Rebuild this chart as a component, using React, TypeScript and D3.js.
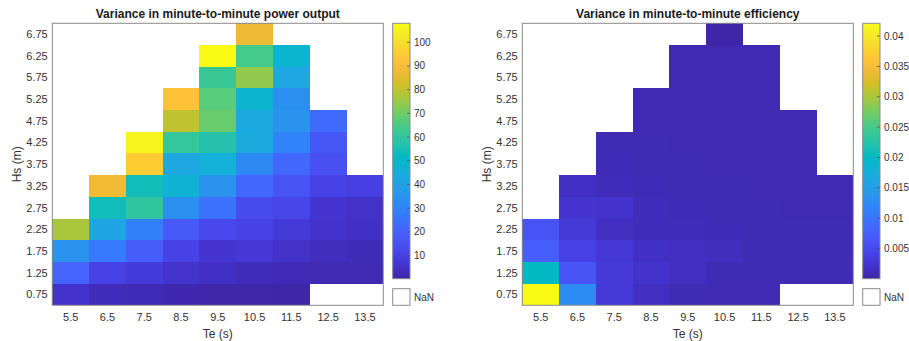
import React from "react";
import * as d3 from "d3";

const TE = ["5.5", "6.5", "7.5", "8.5", "9.5", "10.5", "11.5", "12.5", "13.5"];
const HS = ["0.75", "1.25", "1.75", "2.25", "2.75", "3.25", "3.75", "4.25", "4.75", "5.25", "5.75", "6.25", "6.75"];
const N = null;

// rows: Hs 0.75 -> 6.75, columns: Te 5.5 -> 13.5
const powerVar: (number | null)[][] = [
  [5.5, 3.0, 2.5, 1.3, 0.8, 0.6, 0.3, N, N],
  [21, 11, 8.5, 6, 4.5, 3, 2.2, 2, 2],
  [35, 27, 19, 11, 6.5, 7.5, 5, 3.5, 2.5],
  [77, 41, 29, 18, 13, 11, 8, 5.5, 4.5],
  [N, 54, 60, 34, 25, 14, 12, 6.5, 5],
  [N, 88, 54, 47, 35, 22, 16, 11, 10],
  [N, N, 95, 42, 46, 32, 22, 15, N],
  [N, N, 106, 61, 57, 44, 30, 17, N],
  [N, N, N, 80, 69, 43, 35, 23, N],
  [N, N, N, 92, 67, 48, 34, N, N],
  [N, N, N, N, 62, 74, 42, N, N],
  [N, N, N, N, 108, 64, 49, N, N],
  [N, N, N, N, N, 87, N, N, N],
];

const effVar: (number | null)[][] = [
  [0.0421, 0.0127, 0.003, 0.0015, 0.0008, 0.0007, 0.0007, N, N],
  [0.020, 0.0063, 0.003, 0.0022, 0.0015, 0.0008, 0.0008, 0.0008, 0.0008],
  [0.0075, 0.004, 0.0027, 0.0017, 0.0015, 0.0013, 0.0008, 0.0008, 0.0008],
  [0.0062, 0.003, 0.0015, 0.001, 0.001, 0.0009, 0.0008, 0.0008, 0.0008],
  [N, 0.0025, 0.0022, 0.001, 0.0009, 0.0008, 0.0008, 0.0007, 0.0007],
  [N, 0.0017, 0.001, 0.0009, 0.0008, 0.0008, 0.0007, 0.0007, 0.0007],
  [N, N, 0.0009, 0.0008, 0.0008, 0.0007, 0.0007, 0.0007, N],
  [N, N, 0.0008, 0.0008, 0.0007, 0.0007, 0.0007, 0.0007, N],
  [N, N, N, 0.0007, 0.0007, 0.0007, 0.0007, 0.0007, N],
  [N, N, N, 0.0007, 0.0007, 0.0007, 0.0007, N, N],
  [N, N, N, N, 0.0007, 0.0007, 0.0007, N, N],
  [N, N, N, N, 0.0007, 0.0007, 0.0007, N, N],
  [N, N, N, N, N, 0.00003, N, N, N],
];

const powerTicks = [10, 20, 30, 40, 50, 60, 70, 80, 90, 100];
const effTicks = [0.005, 0.01, 0.015, 0.02, 0.025, 0.03, 0.035, 0.04];

const PARULA = [
  [0.2422, 0.1504, 0.6603], [0.2647, 0.1978, 0.7952], [0.2783, 0.2559, 0.8991],
  [0.2810, 0.3228, 0.9579], [0.2699, 0.3892, 0.9906], [0.2206, 0.4603, 0.9973],
  [0.1786, 0.5289, 0.9682], [0.1540, 0.5902, 0.9218], [0.1248, 0.6459, 0.8883],
  [0.0689, 0.6948, 0.8394], [0.0067, 0.7312, 0.7660], [0.1408, 0.7584, 0.6842],
  [0.2161, 0.7843, 0.5923], [0.3406, 0.8008, 0.4789], [0.5044, 0.7993, 0.3480],
  [0.6720, 0.7793, 0.2227], [0.8203, 0.7498, 0.1535], [0.9393, 0.7288, 0.2100],
  [0.9970, 0.7659, 0.2199], [0.9786, 0.8386, 0.1766], [0.9597, 0.9135, 0.1423],
  [0.9769, 0.9839, 0.0805],
].map(([r, g, b]) => d3.rgb(r * 255, g * 255, b * 255).formatHex());

const parula = d3
  .scaleLinear<string>()
  .domain(PARULA.map((_, i) => i / (PARULA.length - 1)))
  .range(PARULA)
  .interpolate(d3.interpolateRgb)
  .clamp(true);

const FONT = "'Liberation Sans', Arial, Helvetica, sans-serif";
const TXT = "#333";
const BORDER = "#8a8a8a";

function Heatmap({ x0, id, title, data, ticks }: { x0: number; id: string; title: string; data: (number | null)[][]; ticks: number[] }) {
  const plotT = 23.3, plotH = 282, plotW = 331;
  const xs = d3.scaleBand().domain(TE).range([x0, x0 + plotW]);
  const ys = d3.scaleBand().domain(HS).range([plotT + plotH, plotT]);
  const vals = data.flat().filter((v) => v != null) as number[];
  const [mn, mx] = d3.extent(vals) as [number, number];
  const cnorm = d3.scaleLinear().domain([mn, mx]).range([0, 1]);
  const cbX = x0 + plotW + 9.4, cbW = 17.3, cbTop = 23.3, cbBot = 278.7;
  const cb = d3.scaleLinear().domain([mn, mx]).range([cbBot, cbTop]);
  const nanTop = 288.7, nanBot = 305.3;
  return (
    <g fontFamily={FONT}>
      <defs>
        <linearGradient id={id} x1="0" y1="1" x2="0" y2="0">
          {PARULA.map((c, i) => (
            <stop key={i} offset={i / (PARULA.length - 1)} stopColor={c} />
          ))}
        </linearGradient>
      </defs>
      <text x={x0 + plotW / 2} y={18} textAnchor="middle" fontWeight="bold" fontSize={12} fill="#1a1a1a">
        {title}
      </text>
      <rect x={x0} y={plotT} width={plotW} height={plotH} fill="#fff" />
      {data.map((row, ri) =>
        row.map((v, ci) =>
          v == null ? null : (
            <rect
              key={`${ri}-${ci}`}
              x={xs(TE[ci])!}
              y={ys(HS[ri])!}
              width={xs.bandwidth()}
              height={ys.bandwidth()}
              fill={parula(cnorm(v))}
              shapeRendering="crispEdges"
            />
          )
        )
      )}
      <rect x={x0} y={plotT} width={plotW} height={plotH} fill="none" stroke={BORDER} strokeWidth={1} />
      {HS.map((h) => (
        <text key={h} x={x0 - 4.6} y={ys(h)! + ys.bandwidth() / 2} dy="0.35em" textAnchor="end" fontSize={11} fill={TXT}>
          {h}
        </text>
      ))}
      {TE.map((t) => (
        <text key={t} x={xs(t)! + xs.bandwidth() / 2} y={321} textAnchor="middle" fontSize={11} fill={TXT}>
          {t}
        </text>
      ))}
      <text x={x0 + plotW / 2} y={337.5} textAnchor="middle" fontSize={12} fill={TXT}>
        Te (s)
      </text>
      <text transform={`translate(${x0 - 36},${plotT + plotH / 2}) rotate(-90)`} textAnchor="middle" dy="0.35em" fontSize={12} fill={TXT}>
        Hs (m)
      </text>
      <rect x={cbX} y={cbTop} width={cbW} height={cbBot - cbTop} fill={`url(#${id})`} stroke={BORDER} strokeWidth={1} />
      {ticks.map((t) => (
        <g key={t}>
          <line x1={cbX + cbW - 3} x2={cbX + cbW} y1={cb(t)} y2={cb(t)} stroke="#555" strokeWidth={0.8} />
          <text x={cbX + cbW + 4} y={cb(t)} dy="0.35em" fontSize={10} fill={TXT}>
            {String(t)}
          </text>
        </g>
      ))}
      <rect x={cbX} y={nanTop} width={cbW} height={nanBot - nanTop} fill="#fff" stroke={BORDER} strokeWidth={1} />
      <text x={cbX + cbW + 4} y={(nanTop + nanBot) / 2} dy="0.35em" fontSize={10} fill={TXT}>
        NaN
      </text>
    </g>
  );
}

export default function App() {
  return (
    <svg width={909} height={341} style={{ position: "absolute", left: 0, top: 0, background: "#fff" }}>
      <Heatmap x0={52.3} id="gradPower" title="Variance in minute-to-minute power output" data={powerVar} ticks={powerTicks} />
      <Heatmap x0={522.3} id="gradEff" title="Variance in minute-to-minute efficiency" data={effVar} ticks={effTicks} />
    </svg>
  );
}
